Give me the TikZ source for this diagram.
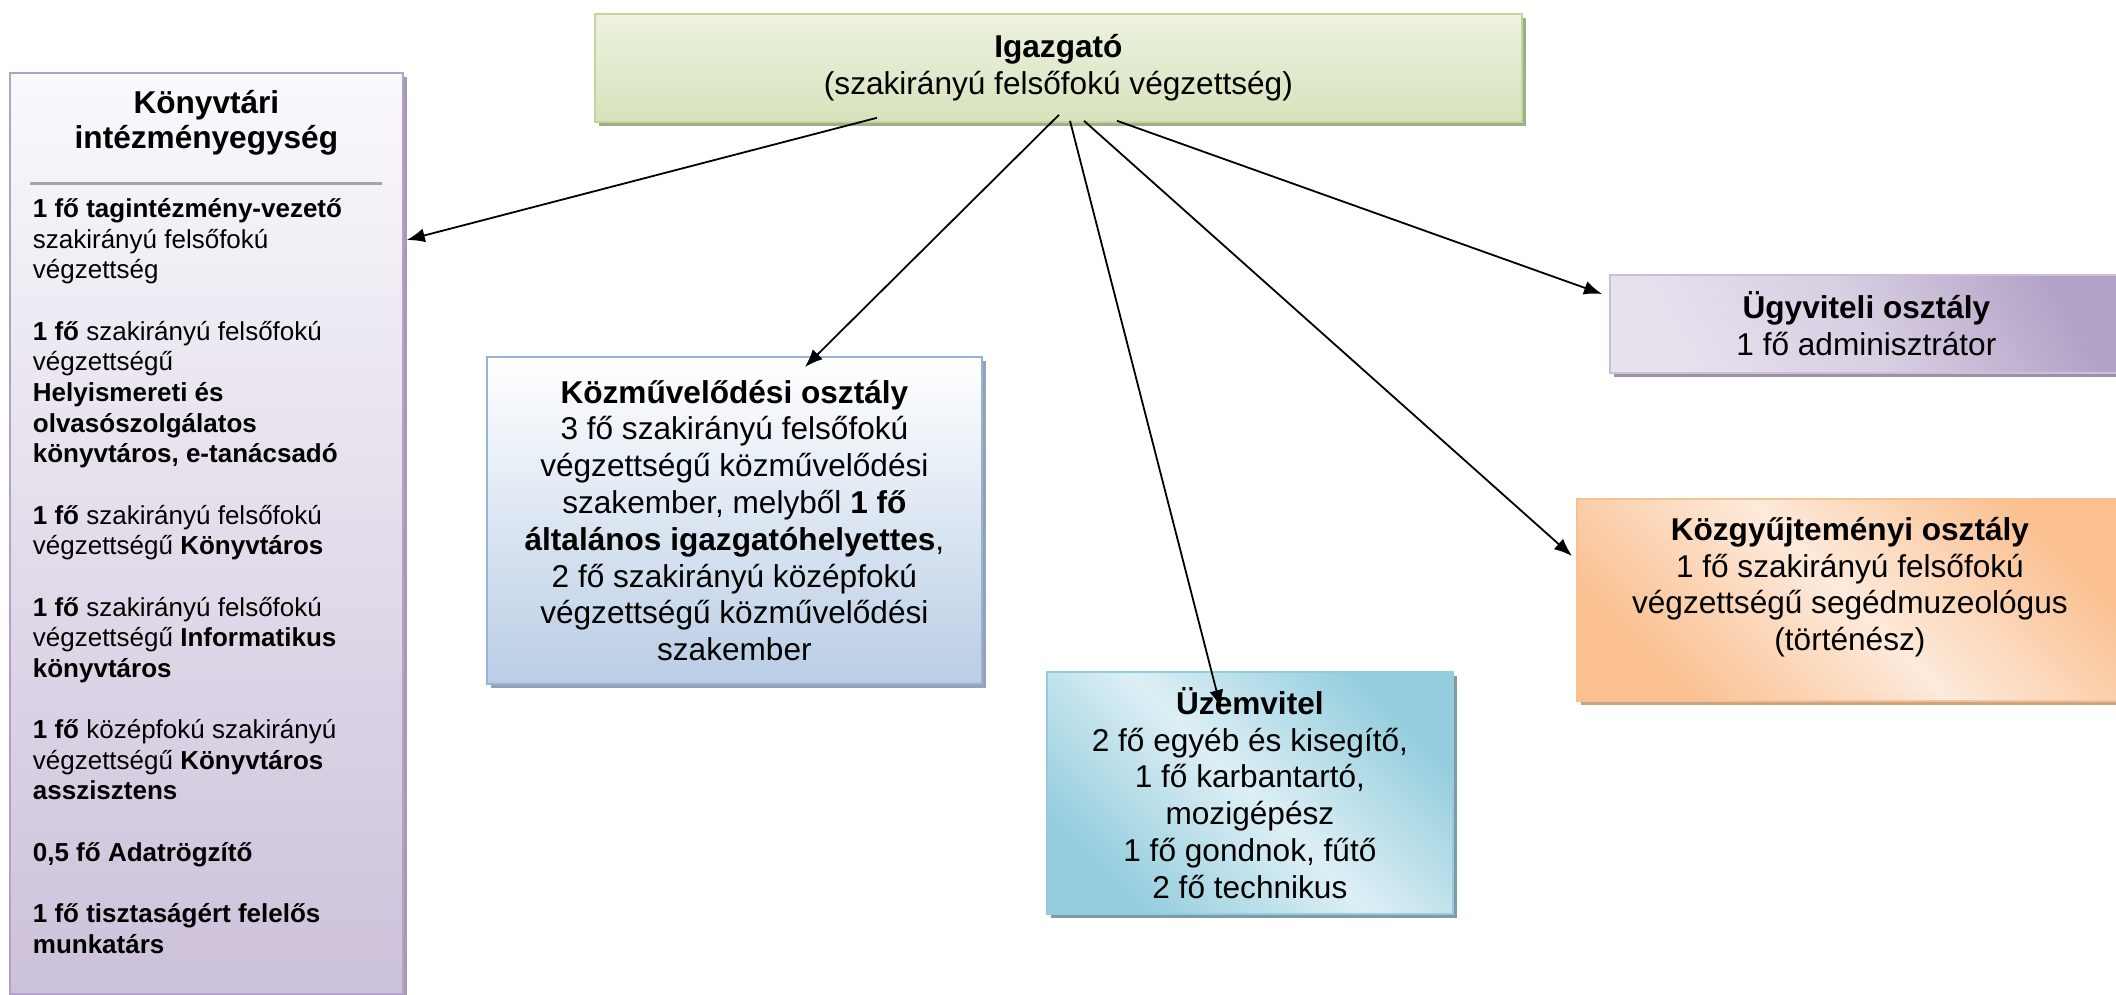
\documentclass[tikz,border=0pt]{standalone}
\usepackage{fontspec}
\setmainfont{Liberation Sans}
\usetikzlibrary{arrows.meta, calc, shadows}

\definecolor{igtop}{RGB}{236,242,224}
\definecolor{igbottom}{RGB}{214,227,188}
\definecolor{igborder}{RGB}{195,214,155}
\definecolor{igshadow}{RGB}{160,172,140}
\definecolor{konyvtop}{RGB}{250,249,252}
\definecolor{konyvbottom}{RGB}{204,193,218}
\definecolor{konyvborder}{RGB}{179,162,199}
\definecolor{konyvshadow}{RGB}{165,155,178}
\definecolor{kozmuvbottom}{RGB}{185,205,229}
\definecolor{kozmuvborder}{RGB}{149,179,215}
\definecolor{kozmuvshadow}{RGB}{150,162,180}
\definecolor{uzemdark}{RGB}{147,205,221}
\definecolor{uzemlight}{RGB}{221,239,245}
\definecolor{uzemshadow}{RGB}{128,155,165}
\definecolor{ugyvdark}{RGB}{179,162,199}
\definecolor{ugyvlight}{RGB}{231,225,238}
\definecolor{ugyvshadow}{RGB}{155,148,165}
\definecolor{kozgydark}{RGB}{250,192,144}
\definecolor{kozgylight}{RGB}{253,234,219}
\definecolor{kozgyshadow}{RGB}{200,165,135}
\definecolor{sepgray}{RGB}{166,166,166}

\begin{document}
\begin{tikzpicture}[x=0.5pt, y=-0.5pt, >={Latex[length=9pt, width=7pt]},
    box/.style={draw, line width=0.9pt, anchor=north west, inner sep=0pt,
        font=\fontsize{15.8}{18.4}\selectfont},
    igbox/.style={box, align=center, draw=igborder, top color=igtop, bottom color=igbottom,
        drop shadow={shadow xshift=2pt, shadow yshift=-2pt, fill=igshadow, opacity=1}},
    konyvbox/.style={box, draw=konyvborder, top color=konyvtop, bottom color=konyvbottom,
        drop shadow={shadow xshift=2pt, shadow yshift=-2pt, fill=konyvshadow, opacity=1}},
    kozmuvbox/.style={box, align=center, draw=kozmuvborder, top color=white, bottom color=kozmuvbottom,
        drop shadow={shadow xshift=2pt, shadow yshift=-2pt, fill=kozmuvshadow, opacity=1}},
    uzembox/.style={box, align=center, draw=uzemdark, left color=uzemdark, right color=uzemdark,
        middle color=uzemlight, shading angle=135,
        drop shadow={shadow xshift=2pt, shadow yshift=-2pt, fill=uzemshadow, opacity=1}},
    ugyvbox/.style={box, align=center, draw=ugyvdark!70, left color=ugyvlight, right color=ugyvdark,
        middle color=ugyvlight!70!ugyvdark, shading angle=120,
        drop shadow={shadow xshift=2pt, shadow yshift=-2pt, fill=ugyvshadow, opacity=1}},
    kozgybox/.style={box, align=center, draw=kozgydark, left color=kozgydark, right color=kozgydark,
        middle color=kozgylight, shading angle=135,
        drop shadow={shadow xshift=2pt, shadow yshift=-2pt, fill=kozgyshadow, opacity=1}}]
        \useasboundingbox (0,0) rectangle (2116,995);
        \node[igbox, minimum width=463.5pt, minimum height=54pt] (igazgato) at (594,13)
            {\textbf{Igazgató}\\(szakirányú felsőfokú végzettség)};
        \node[konyvbox, minimum width=196.5pt, minimum height=460.5pt] (konyv) at (9,72)
            {\parbox[c][460.5pt][t]{173.5pt}{%
            \vspace*{8.6pt}%
            \centering\fontsize{15.8}{17.5}\selectfont\bfseries K\"onyvt\'ari\\int\'ezm\'enyegys\'eg\par
            \vspace{0.75pt}\noindent\makebox[\linewidth]{\color{sepgray}\rule{176pt}{1.5pt}}\par
            \vspace{1pt}%
            \raggedright\fontsize{13}{15.33}\selectfont\mdseries
            \textbf{1 fő tagintézmény-vezető}\\szakirányú felsőfokú\\végzettség\\[15.33pt]
            \textbf{1 fő} szakirányú felsőfokú\\végzettségű\\\textbf{Helyismereti és}\\
            \textbf{olvasószolgálatos}\\\textbf{könyvtáros, e-tanácsadó}\\[15.33pt]
            \textbf{1 fő} szakirányú felsőfokú\\végzettségű \textbf{Könyvtáros}\\[15.33pt]
            \textbf{1 fő} szakirányú felsőfokú\\végzettségű \textbf{Informatikus}\\\textbf{könyvtáros}\\[15.33pt]
            \textbf{1 fő} középfokú szakirányú\\végzettségű \textbf{Könyvtáros}\\\textbf{asszisztens}\\[15.33pt]
            \textbf{0,5 fő Adatrögzítő}\\[15.33pt]
            \textbf{1 fő tisztaságért felelős}\\\textbf{munkatárs}\par}};
        \node[kozmuvbox, minimum width=247.5pt, minimum height=163.5pt] (kozmuv) at (486,356)
            {\textbf{Közművelődési osztály}\\3 fő szakirányú felsőfokú\\végzettségű közművelődési\\
            szakember, melyből \textbf{1 fő}\\\textbf{általános igazgatóhelyettes},\\
            2 fő szakirányú középfokú\\végzettségű közművelődési\\szakember};
        \node[uzembox, minimum width=203pt, minimum height=121pt] (uzem) at (1046,671)
            {\textbf{Üzemvitel}\\2 fő egyéb és kisegítő,\\1 fő karbantartó,\\mozigépész\\
            1 fő gondnok, fűtő\\2 fő technikus};
        \node[ugyvbox, minimum width=256.5pt, minimum height=49pt] (ugyv) at (1609,274)
            {\textbf{Ügyviteli osztály}\\1 fő adminisztrátor};
        \node[kozgybox, minimum width=273pt, minimum height=101pt, text depth=16pt] (kozgy) at (1576,498)
            {\textbf{Közgyűjteményi osztály}\\1 fő szakirányú felsőfokú\\
            végzettségű segédmuzeológus\\(történész)};
        %--------------------------
        \path[->, line width=0.9pt]
        ($(igazgato.south west)+(283,-5)$) edge ($(konyv.north east)+(3,168)$)
        ($(igazgato.south west)+(465,-8)$) edge ($(kozmuv.north)+(70.5,11)$)
        ($(igazgato.south west)+(476,-2)$) edge ($(uzem.north)+(-29,37)$)
        ($(igazgato.south west)+(490,-2)$) edge ($(kozgy.north west)+(-4,58)$)
        ($(igazgato.south west)+(523,-2)$) edge ($(ugyv.north west)+(-7,20)$);
\end{tikzpicture}
\end{document}
